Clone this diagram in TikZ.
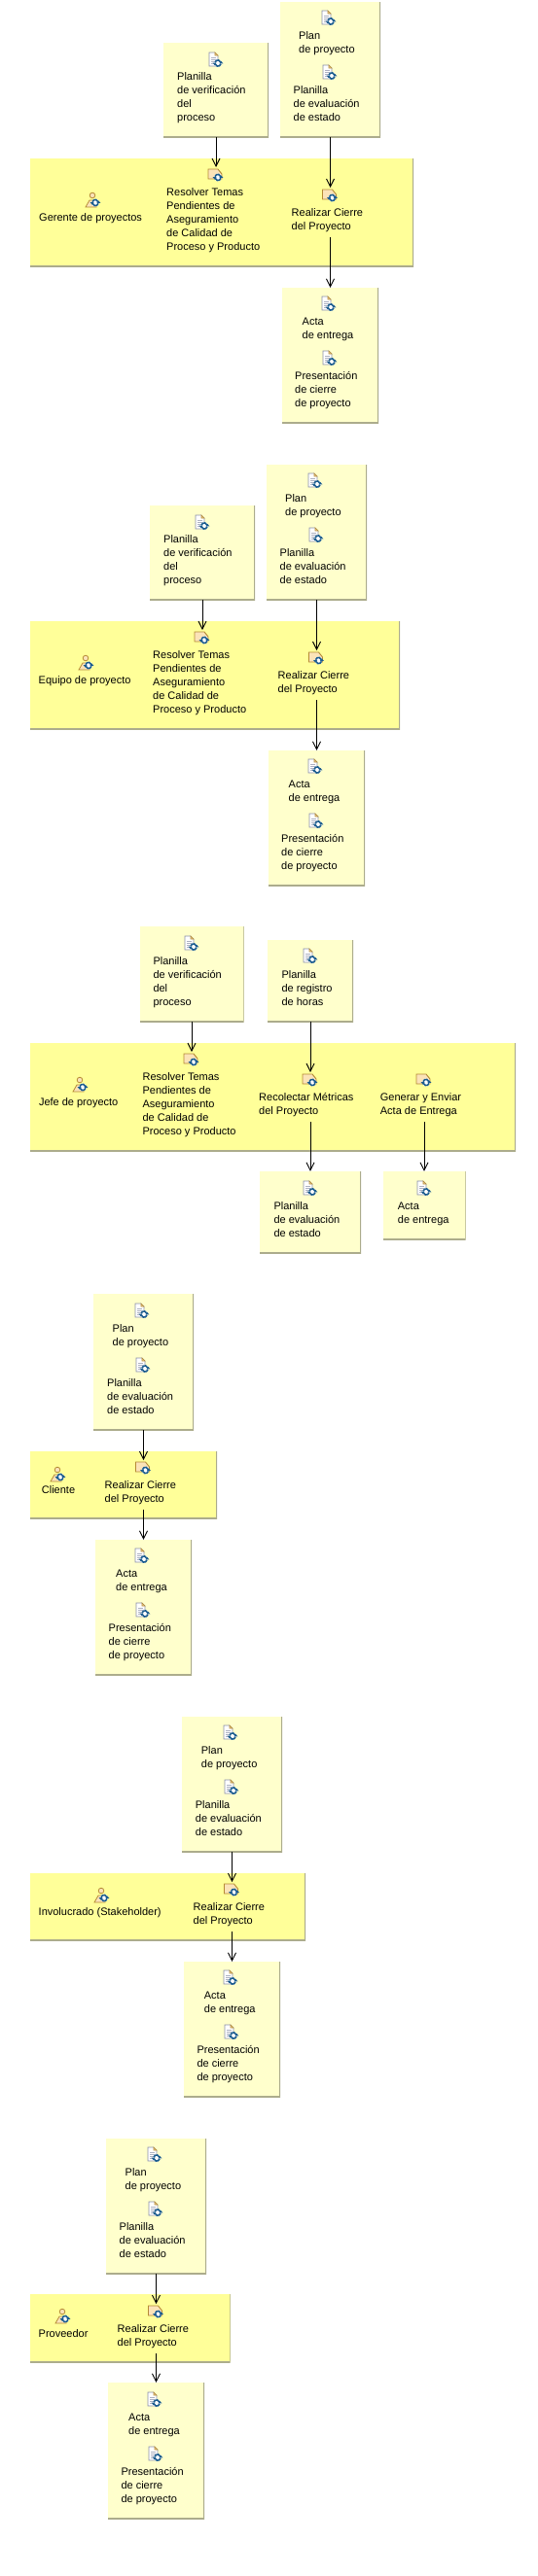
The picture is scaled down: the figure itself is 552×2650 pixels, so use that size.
\documentclass[tikz,border=0pt]{standalone}
\usepackage{fontspec}
\setmainfont{Liberation Sans}
\usepackage{xcolor}
\usetikzlibrary{arrows.meta}
\definecolor{notepale}{HTML}{FFFFCC}
\definecolor{bandyellow}{HTML}{FFFF99}
\definecolor{edgegrey}{HTML}{ACAC8C}
\definecolor{tanline}{HTML}{B58A34}
\definecolor{tanfill}{HTML}{FBE3B8}
\definecolor{syncblue}{HTML}{1B5C8E}
\definecolor{pageline}{HTML}{8A8FA8}
\tikzset{
  note/.style 2 args={rectangle, draw=none, minimum width=#1pt, minimum height=#2pt, inner sep=0pt,
    path picture={\draw[edgegrey, line width=2pt] (path picture bounding box.south west)--(path picture bounding box.south east)--(path picture bounding box.north east);}},
  notebox/.style 2 args={note={#1}{#2}, fill=notepale},
  bandbox/.style 2 args={note={#1}{#2}, fill=bandyellow},
  lbl/.style={anchor=north west, align=left, inner sep=0pt, yshift=4.5pt, font=\fontsize{11}{14}\selectfont},
  flow/.style={-{Straight Barb[length=8pt,width=8pt]}, line width=0.9pt, black},
  syncring/.pic={
    \fill[white] (0,0) circle[radius=4];
    \draw[syncblue, line width=1.6pt] (-3,-0.8) arc[start angle=194, end angle=346, radius=3.1];
    \draw[syncblue, line width=1.6pt] (3,0.8) arc[start angle=14, end angle=166, radius=3.1];
    \fill[syncblue] (-5.4,-0.4)--(-1.4,-0.4)--(-3.4,2)--cycle;
    \fill[syncblue] (5.4,0.4)--(1.4,0.4)--(3.4,-2)--cycle;
  },
  docmark/.pic={
    \draw[pageline, fill=white, line width=0.7pt] (-7,-8)--(-1,-8)--(2,-5)--(2,6)--(-7,6)--cycle;
    \draw[tanline, fill=tanfill, line width=0.6pt] (-1,-8)--(2,-5)--(-1,-5)--cycle;
    \draw[pageline!70, line width=0.7pt] (-5,-3)--(0,-3) (-5,-1)--(0,-1) (-5,1)--(-1,1) (-5,3)--(-2,3);
    \pic at (2,3) {syncring};
  },
  taskmark/.pic={
    \coordinate (-top) at (0,-8);
    \draw[tanline, fill=tanfill, line width=0.9pt] (-8,-6)--(2,-6)--(6,-1)--(6,4)--(-8,4)--cycle;
    \pic at (2,2.5) {syncring};
  },
  rolemark/.pic={
    \draw[tanline, fill=tanfill, line width=0.8pt] (-8,7)--(-4,0)--(1,0)--(3,7)--cycle;
    \draw[tanline, fill=tanfill, line width=0.8pt] (-1,-5) circle[radius=2.8];
    \pic at (2,2.5) {syncring};
  },
}
\begin{document}
\begin{tikzpicture}[x=1pt,y=-1pt]
  \useasboundingbox (0,0) rectangle (552,2650);

  \node[notebox={108}{97}] (verif1) at (222,92.5) {};
  \node[notebox={103}{139}] (plan1) at (339.5,71.5) {};
  \node[bandbox={394}{111}] (band1) at (228,218.5) {};
  \node[notebox={99}{139}] (acta1) at (339.5,365.5) {};
  \pic at (222,62) {docmark};
  \pic at (338,19) {docmark};
  \pic at (339,75) {docmark};
  \pic at (96,206) {rolemark};
  \pic (resolver1) at (222,180) {taskmark};
  \pic (cierre1) at (339.5,201) {taskmark};
  \pic at (338,313) {docmark};
  \pic at (339,369) {docmark};
  \node[lbl] (verif1txt) at (182,79) {Planilla\\de verificación\\del\\proceso};
  \node[lbl] (plan1txt) at (307,37) {Plan\\de proyecto};
  \node[lbl] (eval1txt) at (301.5,93) {Planilla\\de evaluación\\de estado};
  \node[lbl] (role1txt) at (40,224) {Gerente de proyectos};
  \node[lbl] (resolver1txt) at (171,198) {Resolver Temas\\Pendientes de\\Aseguramiento\\de Calidad de\\Proceso y Producto};
  \node[lbl] (cierre1txt) at (299.5,219) {Realizar Cierre\\del Proyecto};
  \node[lbl] (acta1txt) at (310.5,331) {Acta\\de entrega};
  \node[lbl] (pres1txt) at (303,387) {Presentación\\de cierre\\de proyecto};
  \coordinate (cierre1out) at (339.5,244);
  \draw[flow] (verif1.south)--(resolver1-top);
  \draw[flow] (plan1.south)--(cierre1-top);
  \draw[flow] (cierre1out)--(acta1.north);

  \node[notebox={108}{97}] (verif2) at (208,568.5) {};
  \node[notebox={103}{139}] (plan2) at (325.5,547.5) {};
  \node[bandbox={380}{111}] (band2) at (221,694.5) {};
  \node[notebox={99}{139}] (acta2) at (325.5,841.5) {};
  \pic at (208,538) {docmark};
  \pic at (324,495) {docmark};
  \pic at (325,551) {docmark};
  \pic at (89,682) {rolemark};
  \pic (resolver2) at (208,656) {taskmark};
  \pic (cierre2) at (325.5,677) {taskmark};
  \pic at (324,789) {docmark};
  \pic at (325,845) {docmark};
  \node[lbl] (verif2txt) at (168,555) {Planilla\\de verificación\\del\\proceso};
  \node[lbl] (plan2txt) at (293,513) {Plan\\de proyecto};
  \node[lbl] (eval2txt) at (287.5,569) {Planilla\\de evaluación\\de estado};
  \node[lbl] (role2txt) at (39.5,700) {Equipo de proyecto};
  \node[lbl] (resolver2txt) at (157,674) {Resolver Temas\\Pendientes de\\Aseguramiento\\de Calidad de\\Proceso y Producto};
  \node[lbl] (cierre2txt) at (285.5,695) {Realizar Cierre\\del Proyecto};
  \node[lbl] (acta2txt) at (296.5,807) {Acta\\de entrega};
  \node[lbl] (pres2txt) at (289,863) {Presentación\\de cierre\\de proyecto};
  \coordinate (cierre2out) at (325.5,720);
  \draw[flow] (verif2.south)--(resolver2-top);
  \draw[flow] (plan2.south)--(cierre2-top);
  \draw[flow] (cierre2out)--(acta2.north);

  \node[notebox={107}{98}] (verif3) at (197,1002) {};
  \node[notebox={88}{84}] (horas3) at (319,1009) {};
  \node[bandbox={499}{111}] (band3) at (280.5,1128.5) {};
  \node[notebox={104}{84}] (eval3) at (319,1247) {};
  \node[notebox={85}{70}] (acta3) at (436,1240) {};
  \pic at (197,971) {docmark};
  \pic at (319,984) {docmark};
  \pic at (83,1116) {rolemark};
  \pic (resolver3) at (197,1090) {taskmark};
  \pic (metricas3) at (319,1111) {taskmark};
  \pic at (436,1111) {taskmark};
  \pic at (319,1223) {docmark};
  \pic at (436,1223) {docmark};
  \node[lbl] (verif3txt) at (157.3,989) {Planilla\\de verificación\\del\\proceso};
  \node[lbl] (horas3txt) at (289.4,1003) {Planilla\\de registro\\de horas};
  \node[lbl] (role3txt) at (39.8,1134) {Jefe de proyecto};
  \node[lbl] (resolver3txt) at (146.4,1108) {Resolver Temas\\Pendientes de\\Aseguramiento\\de Calidad de\\Proceso y Producto};
  \node[lbl] (metricas3txt) at (266,1129) {Recolectar Métricas\\del Proyecto};
  \node[lbl] (generar3txt) at (390.7,1129) {Generar y Enviar\\Acta de Entrega};
  \node[lbl] (eval3txt) at (281.3,1241) {Planilla\\de evaluación\\de estado};
  \node[lbl] (acta3txt) at (408.7,1241) {Acta\\de entrega};
  \coordinate (metricas3out) at (319,1154);
  \coordinate (generar3out) at (436,1154);
  \draw[flow] (verif3.south)--(resolver3-top);
  \draw[flow] (horas3.south)--(metricas3-top);
  \draw[flow] (metricas3out)--(eval3.north);
  \draw[flow] (generar3out)--(acta3.north);

  \node[notebox={103}{140}] (plan4) at (147.5,1401) {};
  \node[bandbox={192}{69}] (band4) at (127,1527.5) {};
  \node[notebox={99}{139}] (acta4) at (147.5,1653.5) {};
  \pic at (146,1349) {docmark};
  \pic at (147,1405) {docmark};
  \pic at (60,1517) {rolemark};
  \pic (cierre4) at (147.5,1510) {taskmark};
  \pic at (146,1601) {docmark};
  \pic at (147,1657) {docmark};
  \node[lbl] (plan4txt) at (115.5,1367) {Plan\\de proyecto};
  \node[lbl] (eval4txt) at (110,1423) {Planilla\\de evaluación\\de estado};
  \node[lbl] (role4txt) at (42.7,1533) {Cliente};
  \node[lbl] (cierre4txt) at (107.5,1528) {Realizar Cierre\\del Proyecto};
  \node[lbl] (acta4txt) at (119,1619) {Acta\\de entrega};
  \node[lbl] (pres4txt) at (111.5,1675) {Presentación\\de cierre\\de proyecto};
  \coordinate (cierre4out) at (147.5,1553);
  \draw[flow] (plan4.south)--(cierre4-top);
  \draw[flow] (cierre4out)--(acta4.north);

  \node[notebox={103}{139}] (plan5) at (238.5,1835.5) {};
  \node[bandbox={283}{69}] (band5) at (172.5,1961.5) {};
  \node[notebox={99}{139}] (acta5) at (238.5,2087.5) {};
  \pic at (237,1783) {docmark};
  \pic at (238,1839) {docmark};
  \pic at (105,1950) {rolemark};
  \pic (cierre5) at (238.5,1944) {taskmark};
  \pic at (237,2035) {docmark};
  \pic at (238,2091) {docmark};
  \node[lbl] (plan5txt) at (206.7,1801) {Plan\\de proyecto};
  \node[lbl] (eval5txt) at (200.7,1857) {Planilla\\de evaluación\\de estado};
  \node[lbl] (role5txt) at (39.5,1967) {Involucrado (Stakeholder)};
  \node[lbl] (cierre5txt) at (198.5,1962) {Realizar Cierre\\del Proyecto};
  \node[lbl] (acta5txt) at (209.7,2053) {Acta\\de entrega};
  \node[lbl] (pres5txt) at (202.3,2109) {Presentación\\de cierre\\de proyecto};
  \coordinate (cierre5out) at (238.5,1987);
  \draw[flow] (plan5.south)--(cierre5-top);
  \draw[flow] (cierre5out)--(acta5.north);

  \node[notebox={103}{139}] (plan6) at (160.5,2269.5) {};
  \node[bandbox={206}{70}] (band6) at (133.5,2395) {};
  \node[notebox={99}{140}] (acta6) at (160.5,2521) {};
  \pic at (159,2217) {docmark};
  \pic at (160,2273) {docmark};
  \pic at (65,2383) {rolemark};
  \pic (cierre6) at (160.5,2378) {taskmark};
  \pic at (159,2469) {docmark};
  \pic at (160,2525) {docmark};
  \node[lbl] (plan6txt) at (128.5,2235) {Plan\\de proyecto};
  \node[lbl] (eval6txt) at (122.5,2291) {Planilla\\de evaluación\\de estado};
  \node[lbl] (role6txt) at (39.5,2401) {Proveedor};
  \node[lbl] (cierre6txt) at (120.5,2396) {Realizar Cierre\\del Proyecto};
  \node[lbl] (acta6txt) at (132,2487) {Acta\\de entrega};
  \node[lbl] (pres6txt) at (124.3,2543) {Presentación\\de cierre\\de proyecto};
  \coordinate (cierre6out) at (160.5,2421);
  \draw[flow] (plan6.south)--(cierre6-top);
  \draw[flow] (cierre6out)--(acta6.north);
\end{tikzpicture}
\end{document}
